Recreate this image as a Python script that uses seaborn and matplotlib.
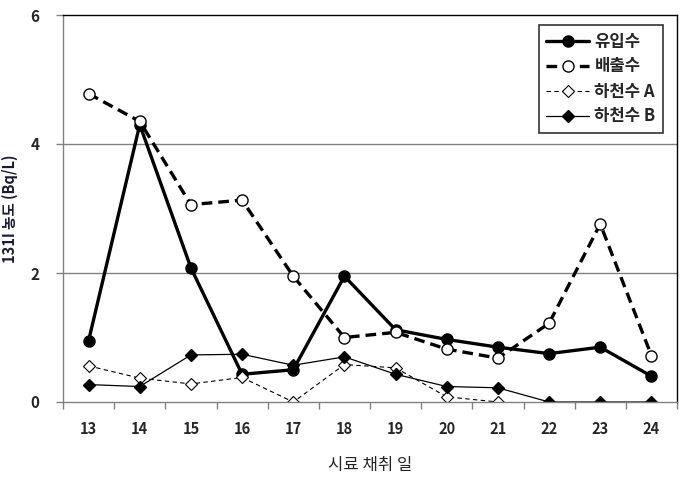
import numpy as np
import pandas as pd
import matplotlib
matplotlib.use("Agg")
import matplotlib.pyplot as plt
import seaborn as sns
from matplotlib.lines import Line2D

days = ["13", "14", "15", "16", "17", "18", "19", "20", "21", "22", "23", "24"]
influent = [0.95, 4.30, 2.08, 0.43, 0.50, 1.95, 1.12, 0.97, 0.85, 0.75, 0.85, 0.40]
effluent = [4.78, 4.35, 3.06, 3.13, 1.95, 1.00, 1.08, 0.82, 0.68, 1.22, 2.76, 0.72]
river_a = [0.56, 0.37, 0.28, 0.38, 0.00, 0.58, 0.53, 0.08, 0.00, np.nan, np.nan, np.nan]
river_b = [0.27, 0.24, 0.73, 0.74, 0.57, 0.70, 0.43, 0.24, 0.22, 0.00, 0.00, 0.00]
series_names = ["유입수", "배출수", "하천수 A", "하천수 B"]

sns.set_theme(style="white")
plt.rcParams['font.family'] = ['Noto Sans CJK KR', 'DejaVu Sans']

fig = plt.figure(figsize=(6.84, 4.8), dpi=100)
ax = fig.add_axes([63/684, 1-402/480, (677-63)/684, (402-15)/480])

x = np.arange(len(days))
styles = [
    dict(data=influent, color="black", lw=2.4, ls="-", marker="o", ms=8, mfc="black", mec="black", mew=1),
    dict(data=effluent, color="black", lw=2.4, ls=(0, (3.2, 1.8)), marker="o", ms=8, mfc="white", mec="black", mew=1),
    dict(data=river_a, color="black", lw=0.8, ls=(0, (4, 3)), marker="D", ms=6, mfc="white", mec="black", mew=0.8),
    dict(data=river_b, color="black", lw=0.9, ls="-", marker="D", ms=6, mfc="black", mec="black", mew=1),
]
handles = []
for name, st in zip(series_names, styles):
    df = pd.DataFrame({"x": x, "y": st["data"]})
    sns.lineplot(data=df, x="x", y="y", ax=ax, color=st["color"], linewidth=st["lw"],
                 linestyle=st["ls"], marker=st["marker"], markersize=st["ms"],
                 markerfacecolor=st["mfc"], markeredgecolor=st["mec"], markeredgewidth=st["mew"],
                 sort=False, estimator=None, legend=False)
    handles.append(Line2D([0], [0], color=st["color"], lw=st["lw"], ls=st["ls"], marker=st["marker"],
                          ms=st["ms"], mfc=st["mfc"], mec=st["mec"], mew=st["mew"]))

ax.set_xlim(-0.5, len(days) - 0.5)
ax.set_ylim(0, 6)
ax.set_yticks([0, 2, 4, 6])
ax.set_yticklabels(["0", "2", "4", "6"], fontsize=11, fontweight="bold")
ax.set_xticks(x)
ax.set_xticklabels(days, fontsize=10.5, fontweight="bold")
ax.set_xticks(np.arange(-0.5, len(days), 1), minor=True)
ax.tick_params(axis="x", which="major", length=0, pad=14)
ax.tick_params(axis="x", which="minor", length=5, color="#808080", width=1, direction="out", bottom=True)
ax.tick_params(axis="y", which="major", length=5, color="#808080", width=1, direction="out", left=True, pad=12)

for yv in [2, 4]:
    ax.axhline(yv, color="#808080", lw=1, zorder=0)

ax.spines["left"].set_color("#808080")
ax.spines["bottom"].set_color("#808080")
ax.spines["top"].set_color("black")
ax.spines["right"].set_color("black")
for s in ax.spines.values():
    s.set_linewidth(1)

ax.set_xlabel("시료 채취 일", fontsize=12, labelpad=14)
ax.set_ylabel("131I 농도 (Bq/L)", fontsize=10.5, fontweight="bold", color="#1a1a33")
ax.yaxis.set_label_coords((18-63)/614, 0.5)

leg = ax.legend(handles, series_names, loc="upper right", bbox_to_anchor=((663-63)/614, (402-25)/387),
                frameon=True, fancybox=False, edgecolor="black", fontsize=12, handlelength=2.6,
                borderpad=0.45, labelspacing=0.42, handletextpad=0.3, borderaxespad=0)
leg.get_frame().set_linewidth(1.2)
for t in leg.get_texts():
    t.set_fontweight("bold")

fig.savefig("out.png", dpi=100)
